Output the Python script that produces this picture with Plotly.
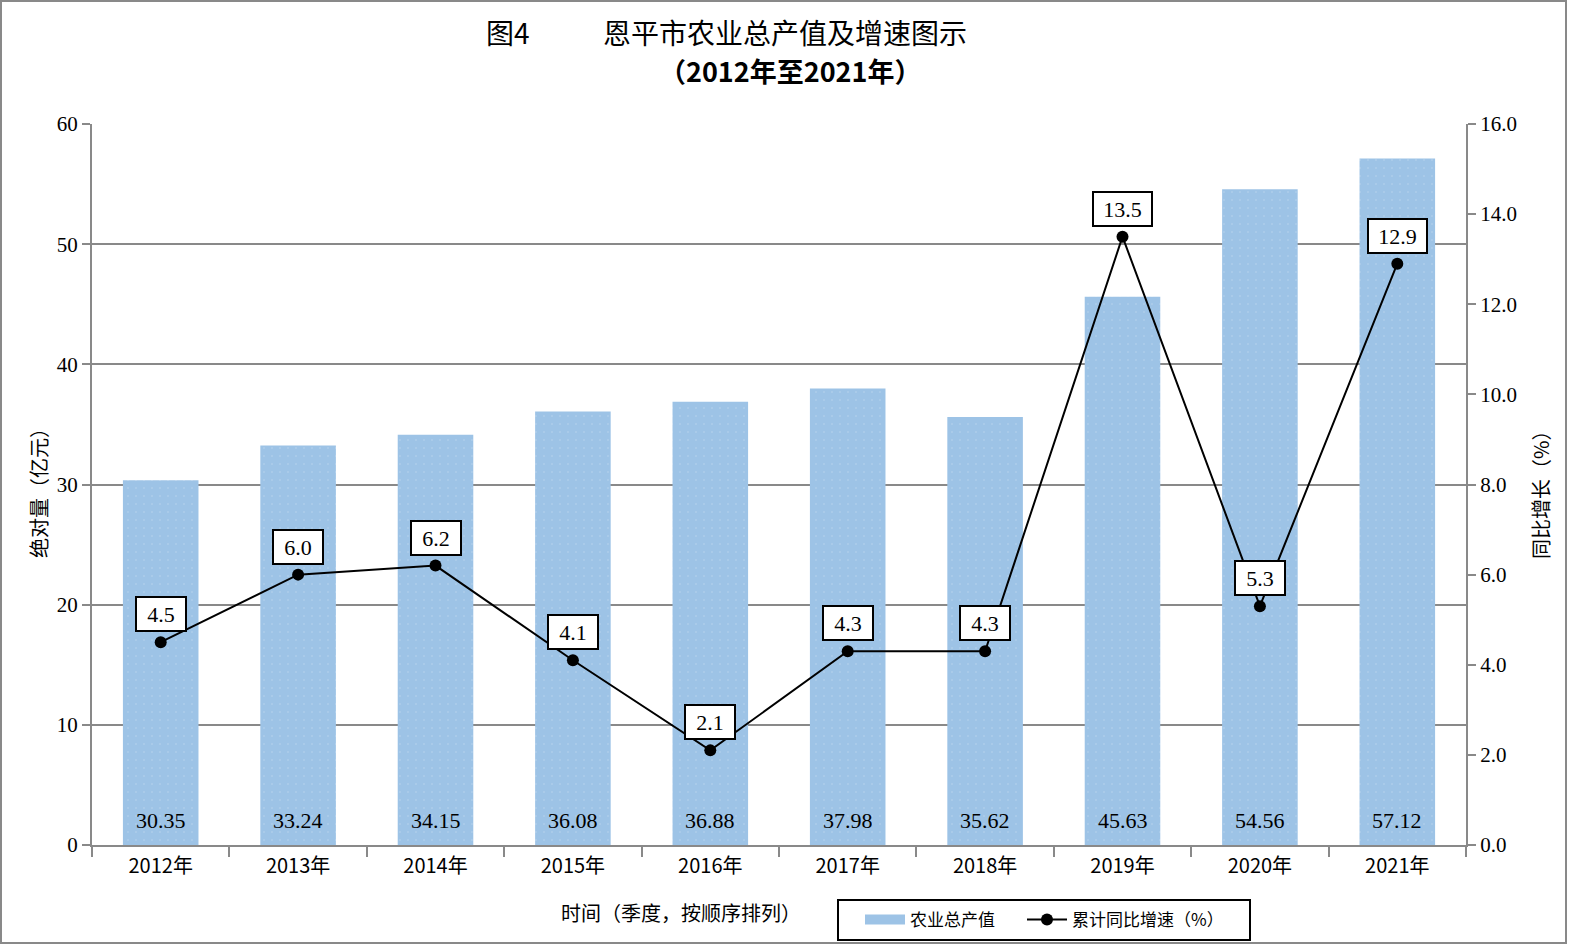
import plotly.graph_objects as go

# 数据
years = ['2012年', '2013年', '2014年', '2015年', '2016年',
         '2017年', '2018年', '2019年', '2020年', '2021年']
output = [30.35, 33.24, 34.15, 36.08, 36.88, 37.98, 35.62, 45.63, 54.56, 57.12]
growth = [4.5, 6.0, 6.2, 4.1, 2.1, 4.3, 4.3, 13.5, 5.3, 12.9]

cjk = 'Noto Sans CJK SC'
num_font = 'Liberation Serif'
grey = '#898989'
bar_color = '#9dc3e6'

# 像素 -> paper 坐标（绘图区 92..1466 x 124..845）
def fx(px):
    return (px - 92) / 1374

def fy(py):
    return (845 - py) / 721

fig = go.Figure()

fig.add_trace(go.Bar(
    x=years, y=output, name='农业总产值', width=0.55, showlegend=False,
    marker=dict(color=bar_color, line=dict(width=0),
                pattern=dict(shape='.', fgcolor='rgba(255,255,255,0.3)',
                             size=8, solidity=0.06)),
))

# 图例用的色块（粗线代替柱形方块）
fig.add_trace(go.Scatter(
    x=[None], y=[None], name='农业总产值', mode='lines', legend='legend',
    line=dict(color=bar_color, width=13), hoverinfo='skip',
))

fig.add_trace(go.Scatter(
    x=years, y=growth, name='累计同比增速（%）', yaxis='y2', legend='legend2',
    mode='lines+markers',
    line=dict(color='black', width=2),
    marker=dict(color='black', size=12),
))

# 柱底数值
for yr, v in zip(years, output):
    fig.add_annotation(x=yr, y=0, yref='y', text=f'{v:.2f}', showarrow=False,
                       yshift=25, font=dict(family=num_font, size=22, color='black'))

# 折线标签
for yr, v in zip(years, growth):
    txt = f'{v:.1f}'
    fig.add_annotation(x=yr, y=v, yref='y2', text=txt, showarrow=False,
                       yshift=28, width=9 * len(txt) + 19, height=30,
                       bgcolor='white', bordercolor='black', borderwidth=2,
                       font=dict(family=num_font, size=22, color='black'))

# 标题
fig.add_annotation(xref='paper', yref='paper', x=fx(508), y=fy(32), text='图4',
                   showarrow=False, xanchor='center', yanchor='middle',
                   font=dict(family=cjk, size=28, color='black'))
fig.add_annotation(xref='paper', yref='paper', x=fx(785), y=fy(32),
                   text='恩平市农业总产值及增速图示', showarrow=False,
                   xanchor='center', yanchor='middle',
                   font=dict(family=cjk, size=28, color='black'))
fig.add_annotation(xref='paper', yref='paper', x=fx(790), y=fy(70),
                   text='<b>（2012年至2021年）</b>', showarrow=False,
                   xanchor='center', yanchor='middle',
                   font=dict(family=cjk, size=27, color='black'))

# 坐标轴标题
fig.add_annotation(xref='paper', yref='paper', x=fx(38), y=fy(488),
                   text='绝对量（亿元）', showarrow=False, textangle=-90,
                   xanchor='center', yanchor='middle',
                   font=dict(family=cjk, size=20, color='black'))
fig.add_annotation(xref='paper', yref='paper', x=fx(1540), y=fy(490),
                   text='同比增长（%）', showarrow=False, textangle=-90,
                   xanchor='center', yanchor='middle',
                   font=dict(family=cjk, size=20, color='black'))
fig.add_annotation(xref='paper', yref='paper', x=fx(681), y=fy(912),
                   text='时间（季度，按顺序排列）', showarrow=False,
                   xanchor='center', yanchor='middle',
                   font=dict(family=cjk, size=20, color='black'))

# 外框和图例框
fig.add_shape(type='rect', xref='paper', yref='paper',
              x0=fx(1), x1=fx(1566), y0=fy(943), y1=fy(1),
              line=dict(color=grey, width=2))
fig.add_shape(type='rect', xref='paper', yref='paper',
              x0=fx(838), x1=fx(1250), y0=fy(940), y1=fy(900),
              line=dict(color='black', width=2))

legend_style = dict(orientation='h', xanchor='left', yanchor='middle', borderwidth=0,
                    bgcolor='rgba(0,0,0,0)', itemwidth=40,
                    font=dict(family=cjk, size=17, color='black'))

fig.update_layout(
    width=1576, height=950,
    margin=dict(l=92, r=110, t=124, b=105),
    paper_bgcolor='white', plot_bgcolor='white',
    showlegend=True,
    legend=dict(x=fx(860), y=fy(920), **legend_style),
    legend2=dict(x=fx(1022), y=fy(920), **legend_style),
    xaxis=dict(type='category', range=[-0.5, len(years) - 0.5],
               showline=True, linecolor=grey, linewidth=2,
               ticks='outside', tickson='boundaries', ticklen=10, tickcolor=grey,
               tickwidth=2, tickfont=dict(family=cjk, size=20, color='black'),
               ticklabelstandoff=2, showgrid=False),
    yaxis=dict(range=[0, 60], dtick=10, showline=True, linecolor=grey, linewidth=2,
               ticks='outside', ticklen=8, tickcolor=grey, tickwidth=2,
               gridcolor=grey, gridwidth=2, zeroline=False,
               tickfont=dict(family=num_font, size=21, color='black')),
    yaxis2=dict(range=[0, 16], dtick=2, tickformat='.1f', overlaying='y', side='right',
                showline=True, linecolor=grey, linewidth=2, ticks='outside', ticklen=8,
                tickcolor=grey, tickwidth=2, showgrid=False, zeroline=False,
                tickfont=dict(family=num_font, size=21, color='black')),
)

fig.write_html(
    'out.html',
    config={'displayModeBar': False},
    post_script=(
        "document.body.style.margin='0';"
        "document.body.style.overflow='hidden';"
        "var gd=document.getElementById('{plot_id}');"
        "gd.style.position='absolute';gd.style.left='0px';gd.style.top='0px';"
    ),
)
